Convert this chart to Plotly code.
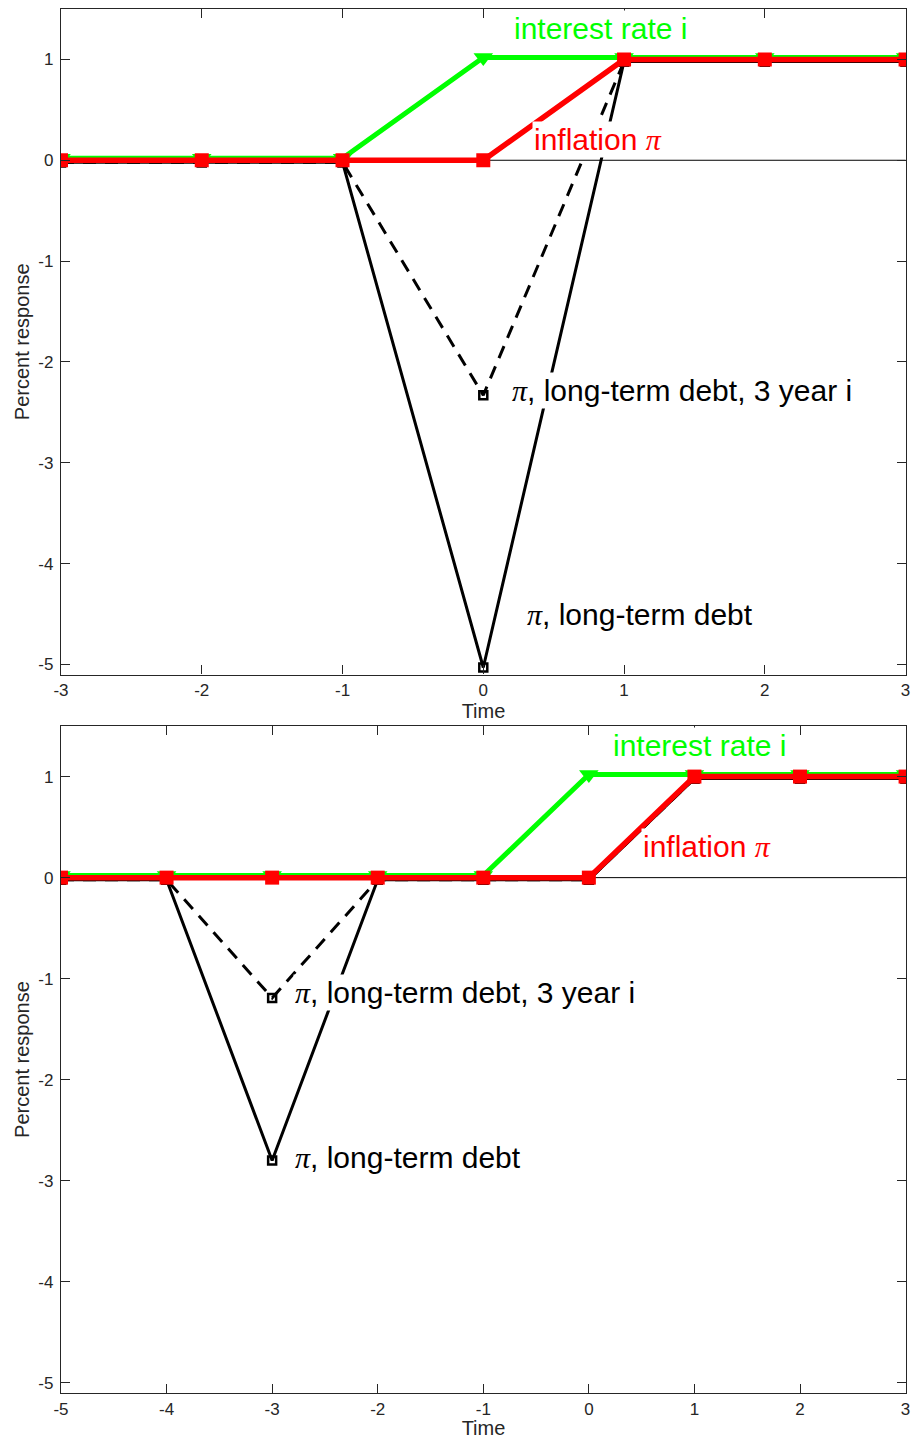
import plotly.graph_objects as go

# ---- data ----
t_top = [-3, -2, -1, 0, 1, 2, 3]
i_top = [0.02, 0.02, 0.02, 1.02, 1.02, 1.02, 1.02]
pi_top = [0, 0, 0, 0, 1, 1, 1]
pi_ltd_top = [-0.02, -0.02, -0.02, -5.03, 0.98, 0.98, 0.98]
pi_ltd3_top = [-0.02, -0.02, -0.02, -2.33, 0.98, 0.98, 0.98]

t_bot = [-5, -4, -3, -2, -1, 0, 1, 2, 3]
i_bot = [0.02, 0.02, 0.02, 0.02, 0.02, 1.02, 1.02, 1.02, 1.02]
pi_bot = [0, 0, 0, 0, 0, 0, 1, 1, 1]
pi_ltd_bot = [-0.02, -0.02, -2.8, -0.02, -0.02, -0.02, 0.98, 0.98, 0.98]
pi_ltd3_bot = [-0.02, -0.02, -1.19, -0.02, -0.02, -0.02, 0.98, 0.98, 0.98]

y_ticks = [-5, -4, -3, -2, -1, 0, 1]

GREEN = "#00FF00"
RED = "#FF0000"
AXC = "#262626"
FONT = "Liberation Sans, Arial, Helvetica, sans-serif"
PI = "<span style=\"font-family:'Liberation Serif', 'Times New Roman', serif\"><i>π</i></span>"

fig = go.Figure()


def add_panel(t, i_vals, pi_vals, ltd, ltd3, xa, ya):
    # thin zero line
    fig.add_trace(go.Scatter(x=[t[0], t[-1]], y=[0, 0], mode="lines",
                             line=dict(color="black", width=1),
                             xaxis=xa, yaxis=ya, showlegend=False, hoverinfo="skip"))
    fig.add_trace(go.Scatter(x=t, y=ltd, mode="lines+markers",
                             line=dict(color="black", width=3),
                             marker=dict(symbol="square-open", size=8, color="black",
                                         line=dict(width=2.5, color="black")),
                             xaxis=xa, yaxis=ya, showlegend=False))
    fig.add_trace(go.Scatter(x=t, y=ltd3, mode="lines+markers",
                             line=dict(color="black", width=3, dash="13px,9px"),
                             marker=dict(symbol="square-open", size=8, color="black",
                                         line=dict(width=2.5, color="black")),
                             xaxis=xa, yaxis=ya, showlegend=False))
    fig.add_trace(go.Scatter(x=t, y=i_vals, mode="lines+markers",
                             line=dict(color=GREEN, width=5),
                             marker=dict(symbol="triangle-down", size=17, color=GREEN),
                             xaxis=xa, yaxis=ya, showlegend=False))
    fig.add_trace(go.Scatter(x=t, y=pi_vals, mode="lines+markers",
                             line=dict(color=RED, width=5.5),
                             marker=dict(symbol="square", size=14, color=RED),
                             xaxis=xa, yaxis=ya, showlegend=False))


add_panel(t_top, i_top, pi_top, pi_ltd_top, pi_ltd3_top, "x", "y")
add_panel(t_bot, i_bot, pi_bot, pi_ltd_bot, pi_ltd3_bot, "x2", "y2")

axis_common = dict(showline=True, mirror="ticks", linecolor=AXC, linewidth=1.3,
                   ticks="inside", ticklen=9, tickwidth=1.3, tickcolor=AXC,
                   showgrid=False, zeroline=False, automargin=False,
                   tickfont=dict(family=FONT, size=17, color=AXC))


def lab(v):
    return [str(x) for x in v]


fig.update_layout(
    width=912, height=1439,
    margin=dict(l=61, r=6, t=9, b=46),
    paper_bgcolor="white", plot_bgcolor="white",
    font=dict(family=FONT, color=AXC),
    xaxis=dict(domain=[0, 1], anchor="y", range=[-3, 3.003], tickvals=t_top, ticktext=lab(t_top),
               title=dict(text="Time", font=dict(size=20, color=AXC), standoff=0),
               **axis_common),
    yaxis=dict(domain=[0.5191, 1], anchor="x", range=[-5.1, 1.5], tickvals=y_ticks, ticktext=lab(y_ticks),
               ticklabelstandoff=3,
               title=dict(text="Percent response", font=dict(size=20, color=AXC), standoff=3),
               **axis_common),
    xaxis2=dict(domain=[0, 1], anchor="y2", range=[-5, 3.004], tickvals=t_bot, ticktext=lab(t_bot),
                title=dict(text="Time", font=dict(size=20, color=AXC), standoff=0),
                **axis_common),
    yaxis2=dict(domain=[0, 0.4819], anchor="x2", range=[-5.1, 1.5], tickvals=y_ticks, ticktext=lab(y_ticks),
                ticklabelstandoff=3,
                title=dict(text="Percent response", font=dict(size=20, color=AXC), standoff=3),
                **axis_common),
)

ann_font = 30
labels = [
    ("x", "y", 0.203, 1.31, "interest rate i", GREEN),
    ("x", "y", 0.345, 0.21, "inflation " + PI, RED),
    ("x", "y", 0.19, -2.28, PI + ", long-term debt, 3 year i", "black"),
    ("x", "y", 0.295, -4.5, PI + ", long-term debt", "black"),
    ("x2", "y2", 0.208, 1.31, "interest rate i", GREEN),
    ("x2", "y2", 0.492, 0.31, "inflation " + PI, RED),
    ("x2", "y2", -2.80, -1.14, PI + ", long-term debt, 3 year i", "black"),
    ("x2", "y2", -2.80, -2.77, PI + ", long-term debt", "black"),
]
for xr, yr, x, y, txt, col in labels:
    fig.add_annotation(x=x, y=y, xref=xr, yref=yr, text=txt, showarrow=False,
                       xanchor="left", yanchor="middle", bgcolor="white",
                       borderpad=1, font=dict(family=FONT, size=ann_font, color=col))

# remove the default 8px page margin so the figure fills the window exactly
fig.write_html("out.html",
               config={"displayModeBar": False},
               post_script="document.body.style.margin='0';document.body.style.overflow='hidden';")
